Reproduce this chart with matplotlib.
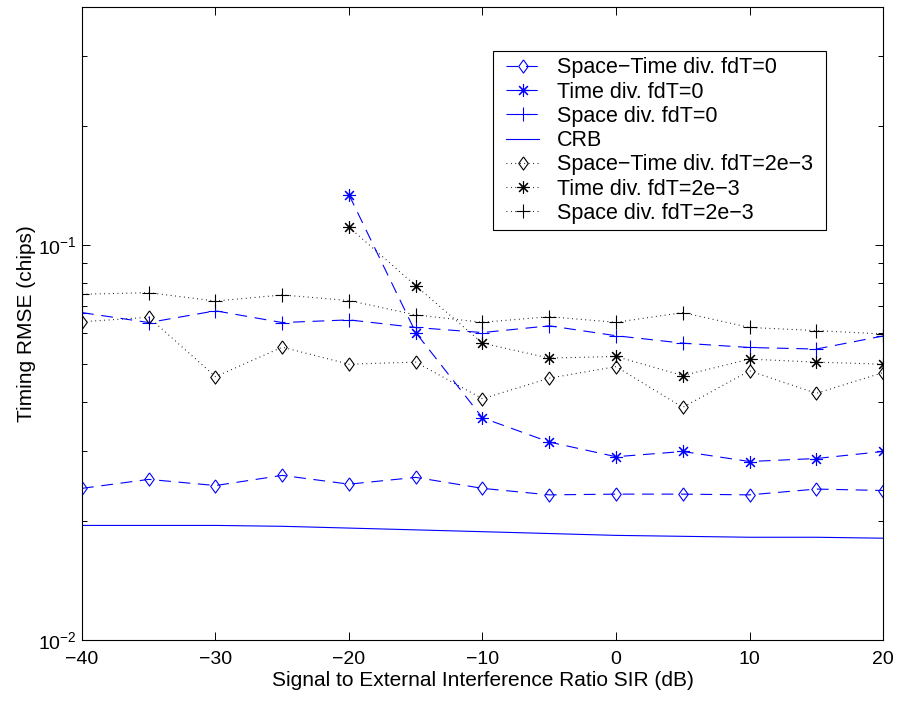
import numpy as np
import matplotlib.pyplot as plt
from matplotlib.patches import Rectangle
from matplotlib.ticker import LogLocator, NullFormatter

plt.rcParams['font.family'] = ['Liberation Sans', 'DejaVu Sans']
plt.rcParams['lines.scale_dashes'] = False

sir = [-40, -35, -30, -25, -20, -15, -10, -5, 0, 5, 10, 15, 20]
sir_td = [-20, -15, -10, -5, 0, 5, 10, 15, 20]

st_0 = [0.0242, 0.0255, 0.0246, 0.0261, 0.0248, 0.0258, 0.0242, 0.0233, 0.0234, 0.0234, 0.0233, 0.0241, 0.0239]
td_0 = [0.1339, 0.0600, 0.0365, 0.0317, 0.0291, 0.0300, 0.0283, 0.0288, 0.0300]
sd_0 = [0.0674, 0.0636, 0.0681, 0.0636, 0.0646, 0.0618, 0.0600, 0.0624, 0.0589, 0.0564, 0.0550, 0.0545, 0.0588]
crb = [0.0195, 0.0195, 0.0195, 0.0194, 0.0192, 0.0190, 0.0188, 0.0186, 0.0184, 0.0183, 0.0182, 0.0182, 0.0181]
st_2 = [0.0639, 0.0656, 0.0464, 0.0551, 0.0499, 0.0505, 0.0408, 0.0460, 0.0492, 0.0388, 0.0480, 0.0421, 0.0475]
td_2 = [0.1109, 0.0788, 0.0564, 0.0517, 0.0522, 0.0467, 0.0514, 0.0505, 0.0499]
sd_2 = [0.0750, 0.0757, 0.0721, 0.0747, 0.0723, 0.0665, 0.0637, 0.0658, 0.0637, 0.0674, 0.0618, 0.0607, 0.0595]

# matlab-like markers
diamond = [(0, 1), (0.72, 0), (0, -1), (-0.72, 0), (0, 1)]
star = (8, 2, 0)
dash = (0, (8.5, 5.5))
dot = (0, (0.6, 2.6))

fig = plt.figure(figsize=(8.97, 7.02), dpi=100)
ax = fig.add_axes([0.0914, 0.0883, 0.8930, 0.9017])

ax.plot(sir, st_0, color='b', ls=dash, lw=0.8, marker=diamond, ms=9.5, mfc='none', mew=0.8,
        label='Space\u2212Time div. fdT=0')
ax.plot(sir_td, td_0, color='b', ls=dash, lw=0.8, marker=star, ms=9, mew=0.8,
        label='Time div. fdT=0')
ax.plot(sir, sd_0, color='b', ls=dash, lw=0.8, marker='+', ms=10, mew=0.8,
        label='Space div. fdT=0')
ax.plot(sir, crb, color='b', ls='-', lw=0.8, label='CRB')
ax.plot(sir, st_2, color='k', ls=dot, lw=0.8, marker=diamond, ms=9.5, mfc='none', mew=0.8,
        label='Space\u2212Time div. fdT=2e\u22123')
ax.plot(sir_td, td_2, color='k', ls=dot, lw=0.8, marker=star, ms=9, mew=0.8,
        label='Time div. fdT=2e\u22123')
ax.plot(sir, sd_2, color='k', ls=dot, lw=0.8, marker='+', ms=10, mew=0.8,
        label='Space div. fdT=2e\u22123')

ax.set_yscale('log')
ax.set_xlim(-40, 20)
ax.set_ylim(0.01, 0.4)
ax.set_xticks([-40, -30, -20, -10, 0, 10, 20])
ax.set_xticklabels(['\u221240', '\u221230', '\u221220', '\u221210', '0', '10', '20'])
ax.yaxis.set_major_locator(LogLocator(base=10, numticks=5))
ax.yaxis.set_minor_locator(LogLocator(base=10, subs=np.arange(2, 10), numticks=20))
ax.yaxis.set_minor_formatter(NullFormatter())
ax.tick_params(which='both', direction='in', top=True, right=True, labelsize=14, width=0.7)
ax.tick_params(which='major', length=6)
ax.tick_params(which='minor', length=3.5)
ax.tick_params(axis='x', pad=8)
for s in ax.spines.values():
    s.set_linewidth(0.8)

ax.set_xlabel('Signal to External Interference Ratio SIR (dB)', fontsize=15, labelpad=2)
ax.set_ylabel('Timing RMSE (chips)', fontsize=15, labelpad=2)

leg = ax.legend(loc='upper right', bbox_to_anchor=(0.9207, 0.9305), fontsize=15.5, frameon=False,
                handlelength=1.5, handletextpad=0.85,
                labelspacing=0.15, borderpad=0.3, borderaxespad=0)

# matlab legend box: wider side padding than top/bottom
fig.canvas.draw()
bb = leg.get_window_extent()
W, H = fig.bbox.width, fig.bbox.height
fig.patches.append(Rectangle(((bb.x0 - 6.5) / W, bb.y0 / H), (bb.width + 13) / W, bb.height / H,
                             transform=fig.transFigure, fill=False, edgecolor='k', lw=0.8, zorder=5))

fig.savefig('out.png', dpi=100)
